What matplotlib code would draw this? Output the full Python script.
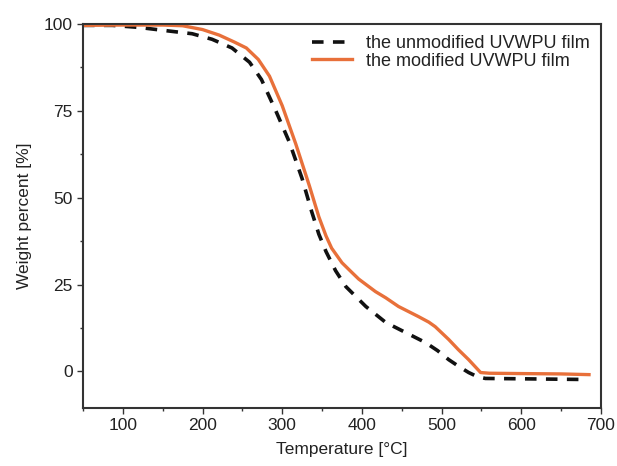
import numpy as np
import matplotlib
matplotlib.use("Agg")
import matplotlib.pyplot as plt
from matplotlib.ticker import MultipleLocator

plt.rcParams['font.family'] = ['Liberation Sans', 'DejaVu Sans']

# unmodified UVWPU film (dashed)
temp_unmod = [50, 87, 121, 146, 187, 212, 237, 259, 274, 292, 309, 325, 337, 346, 355,
              367, 380, 405, 430, 455, 480, 495, 509, 522, 534, 545, 555, 600, 640, 680]
wt_unmod = [99.6, 99.6, 99.0, 98.3, 97.2, 95.6, 93.1, 89.0, 84.0, 75.0, 66.0, 55.5, 46.0, 39.5, 34.5,
            29.0, 24.4, 18.7, 14.1, 11.2, 8.3, 6.0, 3.4, 1.4, -0.3, -1.5, -2.0, -2.1, -2.2, -2.3]

# modified UVWPU film (solid orange)
temp_mod = [50, 100, 150, 175, 200, 221, 240, 255, 270, 284, 300, 317, 334, 346, 355, 362,
            375, 387, 396, 417, 430, 446, 471, 484, 492, 509, 521, 534, 549, 560, 600, 650, 685]
wt_mod = [99.6, 99.7, 99.7, 99.5, 98.4, 96.8, 94.8, 93.1, 89.8, 85.0, 76.5, 65.5, 53.5, 44.5, 39.0, 35.5,
          31.3, 28.6, 26.6, 23.0, 21.2, 18.7, 15.8, 14.2, 12.9, 9.2, 6.3, 3.4, -0.3, -0.5, -0.6, -0.7, -0.9]

fig = plt.figure(figsize=(6.17, 4.66), dpi=100)
ax = fig.add_axes([0.1345, 0.1245, 0.8395, 0.824])

ax.plot(temp_unmod, wt_unmod, color='#111111', lw=2.6, linestyle=(0, (3.2, 2.6)),
        label='the unmodified UVWPU film')
ax.plot(temp_mod, wt_mod, color='#E8703A', lw=2.4, label='the modified UVWPU film')

ax.set_xlim(50, 700)
ax.set_ylim(-10.5, 100)
ax.xaxis.set_major_locator(MultipleLocator(100))
ax.xaxis.set_minor_locator(MultipleLocator(50))
ax.yaxis.set_major_locator(MultipleLocator(25))
ax.yaxis.set_minor_locator(MultipleLocator(12.5))
ax.tick_params(which='major', length=4, width=1, colors='#333333', labelsize=12.5,
               labelcolor='#222222', direction='out')
ax.tick_params(which='minor', length=2.5, width=1, colors='#333333', direction='out')
for s in ax.spines.values():
    s.set_color('#333333')
    s.set_linewidth(1.5)

ax.set_xlabel('Temperature [°C]', fontsize=12.5, color='#222222', labelpad=6)
ax.set_ylabel('Weight percent [%]', fontsize=12.5, color='#222222', labelpad=8)

ax.legend(loc='upper right', frameon=False, fontsize=13, handlelength=2.2,
          handletextpad=0.8, labelspacing=0.05, borderaxespad=0.2,
          labelcolor='#222222')

fig.savefig('out.png', dpi=100)
